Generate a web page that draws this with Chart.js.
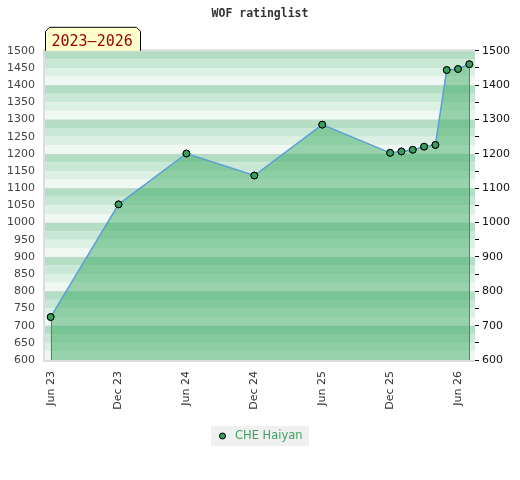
<!DOCTYPE html>
<html>
<head>
<meta charset="utf-8">
<script src="https://cdn.jsdelivr.net/npm/chart.js@4/dist/chart.umd.min.js"></script>
<style>
html,body{margin:0;padding:0;background:#fff;}
canvas{display:block;}
</style>
</head>
<body>
<canvas id="c" width="520" height="480"></canvas>
<script>
// ---- data ----
const chartTitle = 'WOF ratinglist';
const periodLabel = '2023\u20132026';
const seriesName = 'CHE Haiyan';
const ratingMonths = ['Jun 23','Dec 23','Jun 24','Dec 24','Jun 25','Dec 25','Jan 26','Feb 26','Mar 26','Apr 26','May 26','Jun 26','Jul 26'];
const ratings = [725, 1053, 1201, 1137, 1285, 1203, 1207, 1212, 1221, 1226, 1444, 1447, 1461];
const xTickLabels = ['Jun 23','Dec 23','Jun 24','Dec 24','Jun 25','Dec 25','Jun 26'];
const yLeftTicks = [600,650,700,750,800,850,900,950,1000,1050,1100,1150,1200,1250,1300,1350,1400,1450,1500];
const yRightTicks = [600,700,800,900,1000,1100,1200,1300,1400,1500];
const yMin = 600, yMax = 1500;

// all month categories from Jun 23 to Jul 26
const monthNames = ['Jan','Feb','Mar','Apr','May','Jun','Jul','Aug','Sep','Oct','Nov','Dec'];
const allMonths = [];
for (let y = 2023, m = 5; !(y === 2026 && m === 7); ) {
  allMonths.push(monthNames[m] + ' ' + String(y).slice(2));
  m++; if (m === 12) { m = 0; y++; }
}

const bandColors = ['rgb(179,222,196)','rgb(200,231,212)','rgb(221,240,228)','rgb(240,248,243)'];

const bgPlugin = {
  id: 'bands',
  beforeDatasetsDraw(chart) {
    const {ctx, chartArea: a, scales: {y}} = chart;
    ctx.save();
    ctx.beginPath(); ctx.rect(a.left, a.top, a.right - a.left, a.bottom - a.top); ctx.clip();
    for (let v = yMax; v > yMin; v -= 25) {
      const idx = Math.round((yMax - v) / 25) % 4;
      const t = y.getPixelForValue(v), b = y.getPixelForValue(v - 25);
      ctx.fillStyle = bandColors[idx];
      ctx.fillRect(a.left, t, a.right - a.left, b - t);
    }
    ctx.strokeStyle = 'rgba(205,205,205,0.35)';
    ctx.lineWidth = 1;
    yRightTicks.forEach(v => {
      const p = Math.round(y.getPixelForValue(v)) + 0.5;
      ctx.beginPath(); ctx.moveTo(a.left, p); ctx.lineTo(a.right, p); ctx.stroke();
    });
    ctx.restore();
  },
  afterDatasetsDraw(chart) {
    const {ctx, chartArea: a} = chart;
    const meta = chart.getDatasetMeta(0);
    const first = meta.data[0], last = meta.data[meta.data.length - 1];
    ctx.save();
    // borders
    ctx.strokeStyle = '#dddddd';
    ctx.lineWidth = 2;
    ctx.beginPath();
    ctx.moveTo(a.right, a.top - 0.5); ctx.lineTo(a.left - 1, a.top - 0.5); ctx.lineTo(a.left - 1, a.bottom + 1); ctx.lineTo(a.right, a.bottom + 1);
    ctx.stroke();
    ctx.strokeStyle = '#2e9e50';
    ctx.lineWidth = 1;
    [first, last].forEach(p => {
      ctx.beginPath(); ctx.moveTo(Math.round(p.x) + 0.5, p.y + 3); ctx.lineTo(Math.round(p.x) + 0.5, a.bottom); ctx.stroke();
    });
    // redraw points above vertical lines
    meta.data.forEach(p => p.draw(ctx, a));
    ctx.restore();
  },
  afterDraw(chart) {
    const {ctx, chartArea: a} = chart;
    ctx.save();
    // period label box
    const l = a.left + 0.5, r = l + 95, b = a.top, t = a.top - 23.5, c = 4;
    ctx.beginPath();
    ctx.moveTo(l, b); ctx.lineTo(l, t + c); ctx.lineTo(l + c, t); ctx.lineTo(r - c, t); ctx.lineTo(r, t + c); ctx.lineTo(r, b);
    ctx.fillStyle = '#ffffcc'; ctx.fill();
    ctx.strokeStyle = '#000'; ctx.lineWidth = 1; ctx.stroke();
    ctx.fillStyle = '#990000';
    ctx.font = '15px "DejaVu Sans Mono"';
    ctx.textBaseline = 'alphabetic';
    ctx.textAlign = 'left';
    ctx.fillText(periodLabel, l + 6, b - 4.5);
    // legend
    const lx = 211, ly = 426, lw = 98, lh = 20;
    ctx.fillStyle = '#f0f0f0';
    ctx.fillRect(lx, ly, lw, lh);
    ctx.beginPath(); ctx.arc(lx + 11.5, ly + 10, 3, 0, Math.PI * 2);
    ctx.fillStyle = '#3a9d5d'; ctx.fill(); ctx.strokeStyle = '#000'; ctx.lineWidth = 1; ctx.stroke();
    ctx.fillStyle = '#3ea35f';
    ctx.font = '11.5px "DejaVu Sans"';
    ctx.textBaseline = 'middle';
    ctx.fillText(seriesName, lx + 24, ly + 10.5);
    ctx.restore();
  }
};

new Chart(document.getElementById('c'), {
  type: 'line',
  data: {
    labels: allMonths,
    datasets: [{
      label: seriesName,
      data: ratingMonths.map((m, i) => ({x: m, y: ratings[i]})),
      borderColor: '#5a9fd6',
      borderWidth: 1.5,
      backgroundColor: 'rgba(54,167,93,0.47)',
      fill: 'start',
      tension: 0,
      pointRadius: 3.4,
      pointBackgroundColor: '#3a9d5d',
      pointBorderColor: '#000',
      pointBorderWidth: 1,
      yAxisID: 'y'
    }]
  },
  options: {
    responsive: false,
    animation: false,
    devicePixelRatio: 1,
    layout: {padding: {left: 0, right: 0, top: 0, bottom: 54}},
    plugins: {
      legend: {display: false},
      tooltip: {enabled: false},
      title: {
        display: true,
        text: chartTitle,
        color: '#333',
        font: {family: 'DejaVu Sans Mono', size: 11.5, weight: 'bold'},
        padding: {top: 7, bottom: 30}
      }
    },
    scales: {
      x: {
        type: 'category',
        offset: true,
        grid: {display: false, drawTicks: false},
        border: {display: false},
        ticks: {
          autoSkip: false, minRotation: 90, maxRotation: 90, padding: 11,
          color: '#333', font: {family: 'DejaVu Sans', size: 11},
          callback: function(v) { const l = this.getLabelForValue(v); return xTickLabels.includes(l) ? l : null; }
        },
        afterFit: s => { s.height = 66; }
      },
      y: {
        position: 'left', min: yMin, max: yMax,
        afterBuildTicks: s => { s.ticks = yLeftTicks.map(v => ({value: v})); },
        grid: {display: false, drawTicks: false},
        border: {display: false},
        ticks: {padding: 10, color: '#444', font: {family: 'DejaVu Sans', size: 11}, callback: v => String(v)},
        afterFit: s => { s.width = 45; }
      },
      y1: {
        position: 'right', min: yMin, max: yMax,
        afterBuildTicks: s => { s.ticks = yLeftTicks.map(v => ({value: v})); },
        grid: {display: true, drawOnChartArea: false, drawTicks: true, tickLength: 4, color: '#000', lineWidth: 1},
        border: {display: false},
        ticks: {
          padding: 3, color: '#111', font: {family: 'DejaVu Sans', size: 11},
          callback: v => yRightTicks.includes(v) ? String(v) : ''
        },
        afterFit: s => { s.width = 45; }
      }
    }
  },
  plugins: [bgPlugin]
});
</script>
</body>
</html>
